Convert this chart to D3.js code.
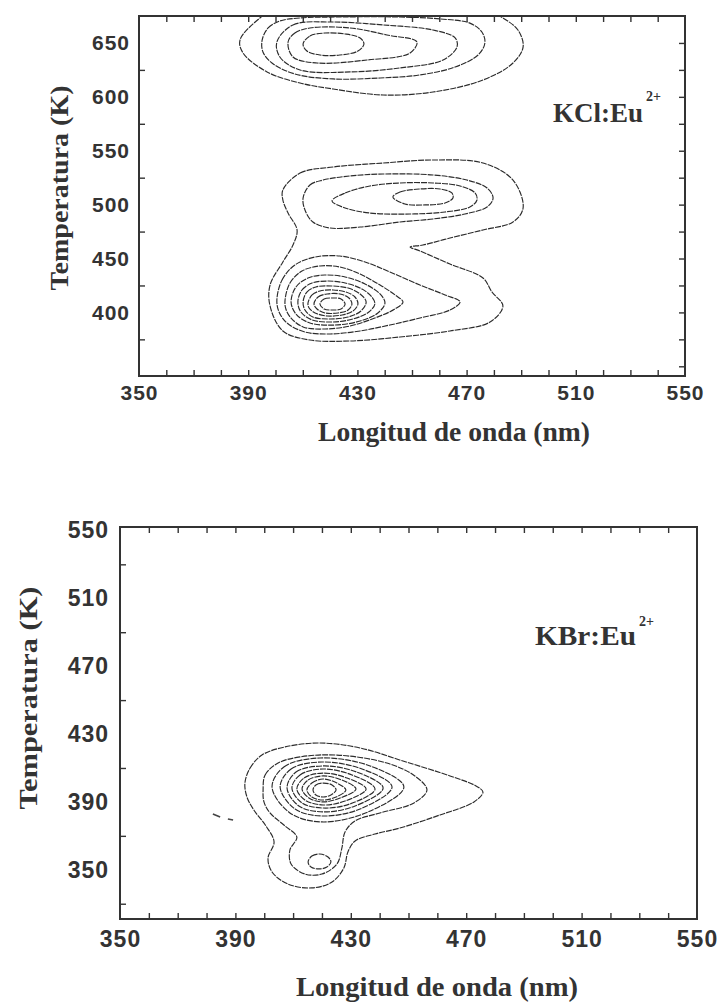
<!DOCTYPE html>
<html>
<head>
<meta charset="utf-8">
<script src="https://cdn.jsdelivr.net/npm/d3@7"></script>
<style>
  body { margin: 0; background: #fff; }
  svg { display: block; }
</style>
</head>
<body>
<svg id="chart" width="719" height="1006"></svg>
<script>
// ---- data (wavelength nm, temperature K) ----
const wlTicks = [350, 390, 430, 470, 510, 550];
const wlMinor = [360, 370, 380, 390, 400, 410, 420, 430, 440, 450, 460, 470, 480, 490, 500, 510, 520, 530, 540];

const kclTempTicks = [400, 450, 500, 550, 600, 650];
const kclTempMinor = [375, 425, 475, 525, 575, 625];
const kclTempRight = [350, 375, 400, 425, 450, 475, 500, 525, 550, 575, 600, 625, 650];

const kbrTempTicks = [350, 390, 430, 470, 510, 550];
const kbrTempMinor = [330, 370, 410, 450, 490, 530];

// KCl:Eu2+ , band near 650 K (clipped by top of frame)
const kclHighBand = [
  [[394.3,673.2],[387.0,652.7],[388.1,640.7],[396.9,623.1],[409.0,612.8],[421.1,607.3],[439.4,601.7],[457.7,604.5],[476.0,615.6],[487.0,631.4],[490.7,646.3],[488.8,662.0],[482.2,675.0],[474.9,685.0],[438.0,690.0],[401.6,685.0]],
  [[395.1,652.7],[397.3,663.9],[401.6,670.4],[409.0,673.2],[423.6,674.1],[445.6,674.1],[460.3,672.3],[471.2,668.4],[475.6,660.2],[476.7,650.0],[474.2,638.8],[465.8,627.7],[452.9,620.3],[438.3,617.5],[421.1,616.6],[407.1,621.2],[398.7,631.4],[395.4,641.6]],
  [[400.5,650.9],[406.4,666.7],[421.1,669.4],[439.4,666.7],[457.7,662.0],[465.8,654.6],[466.5,646.3],[461.4,634.2],[445.6,626.8],[427.3,623.1],[409.0,624.9],[401.6,637.0]],
  [[404.6,650.9],[407.1,659.2],[412.6,663.9],[427.3,663.9],[440.8,657.4],[451.8,650.9],[449.3,640.7],[433.5,634.2],[415.2,631.4],[406.4,637.0]],
  [[410.1,649.0],[412.6,656.5],[418.1,659.2],[425.5,658.3],[431.0,654.6],[432.4,649.0],[430.2,642.5],[423.6,638.8],[416.3,638.8],[411.5,642.5]]
];

// KCl:Eu2+ , outer contour enclosing the 500 K and 410 K bands
const kclOuter = [
  [[402.7,513.6],[409.0,529.3],[421.1,534.9],[439.4,538.6],[457.7,541.4],[476.0,538.6],[487.0,522.8],[490.7,496.9],[487.0,483.9],[476.0,476.5],[463.9,469.0],[454.0,462.5],[449.3,460.7],[452.9,457.0],[463.9,444.9],[476.0,431.9],[479.3,418.9],[483.3,405.9],[478.6,391.1],[463.9,382.8],[445.6,377.2],[427.3,373.5],[412.6,374.4],[402.7,382.8],[398.0,406.0],[398.0,425.4],[402.7,446.8],[406.4,462.5],[407.9,476.5],[404.6,492.2],[402.7,504.3]]
];

// KCl:Eu2+ , band near 510 K
const kclMidBand = [
  [[410.1,506.1],[412.6,518.2],[417.4,522.8],[427.3,526.6],[439.4,528.4],[457.7,527.5],[470.1,522.8],[477.5,515.4],[479.7,506.1],[477.5,497.8],[469.4,491.3],[457.7,486.7],[445.6,483.9],[431.0,479.2],[420.0,478.3],[413.7,483.9],[410.8,495.0]],
  [[420.7,503.4],[425.5,510.8],[434.6,517.3],[445.6,520.1],[457.7,520.1],[467.6,517.3],[473.1,510.8],[473.8,504.3],[471.2,497.8],[462.1,493.2],[449.3,491.3],[434.6,492.2],[425.5,496.9]],
  [[443.0,507.1],[445.6,511.7],[452.9,514.5],[460.3,514.5],[464.6,510.8],[465.0,506.1],[462.1,501.5],[454.8,499.7],[447.4,500.6]]
];

// KCl:Eu2+ , band near 408 K
const kclLowBand = [
  [[400.5,411.5],[402.4,430.1],[407.1,444.0],[414.5,451.4],[423.6,452.3],[432.8,446.8],[441.9,437.5],[452.9,425.4],[462.1,416.2],[467.6,409.7],[463.9,402.2],[452.9,394.8],[441.9,388.3],[431.0,382.8],[420.0,380.0],[410.8,381.8],[404.2,390.2],[401.3,400.4]],
  [[403.5,411.5],[405.3,427.3],[409.7,438.4],[416.3,443.1],[423.6,442.1],[431.0,435.6],[438.3,425.4],[443.8,416.2],[446.7,409.7],[443.8,403.2],[436.4,394.8],[427.3,387.4],[418.1,384.6],[410.1,386.5],[405.7,394.8],[403.8,403.2]],
  [[405.7,409.7],[407.5,423.6],[411.9,431.9],[418.1,434.7],[425.5,432.9],[432.8,426.4],[438.3,417.1],[440.1,408.7],[437.5,399.5],[431.0,392.0],[421.8,388.3],[412.6,390.2],[407.5,398.5]],
  [[408.2,409.7],[409.7,420.8],[413.4,427.3],[419.2,429.1],[425.5,427.3],[431.7,421.7],[435.3,414.3],[436.4,407.8],[434.2,400.4],[428.4,393.9],[420.7,391.1],[413.4,393.0],[409.3,400.4]],
  [[410.1,409.7],[411.5,418.9],[414.8,423.6],[420.7,424.5],[426.6,422.6],[431.0,417.1],[433.2,409.7],[431.3,401.3],[426.6,395.7],[420.0,393.9],[413.7,395.7],[410.8,402.2]],
  [[411.9,408.7],[413.4,416.2],[416.3,419.9],[421.1,420.8],[425.8,418.9],[429.1,414.3],[430.2,407.8],[428.4,401.3],[424.4,397.6],[418.9,396.7],[414.5,399.5],[412.3,404.1]],
  [[414.1,407.8],[415.6,414.3],[418.9,417.1],[423.6,417.1],[426.9,413.4],[428.0,407.8],[426.6,402.2],[422.9,399.5],[418.1,399.5],[415.2,403.2]],
  [[416.3,407.8],[417.8,412.4],[420.7,413.4],[424.0,412.4],[425.5,407.8],[424.0,403.2],[420.7,402.2],[417.8,403.2]]
];

// KBr:Eu2+ , outer two contours (with the low-temperature lobe)
const kbrOuter = [
  [[393.3,401.1],[395.1,410.0],[399.2,417.6],[407.2,422.4],[419.3,424.7],[433.2,421.8],[448.1,414.1],[464.4,405.3],[473.4,399.4],[475.8,395.8],[472.7,390.0],[460.9,382.3],[447.0,374.6],[438.4,371.1],[431.5,367.0],[429.0,360.5],[427.6,351.1],[423.5,342.8],[416.5,339.3],[408.2,341.6],[402.7,348.7],[401.3,356.9],[403.4,366.4],[400.6,375.8],[396.4,385.2],[394.0,392.9]],
  [[399.6,397.0],[400.3,405.9],[404.8,412.9],[412.4,416.5],[425.2,417.6],[442.5,412.9],[452.2,405.3],[456.4,397.0],[451.9,389.4],[440.1,383.5],[431.5,378.8],[428.0,372.3],[426.9,362.8],[425.2,353.4],[420.0,347.5],[414.1,347.5],[409.3,353.4],[408.9,361.7],[411.3,369.3],[407.2,375.8],[402.0,383.5],[399.9,390.0]],
  [[415.2,354.6],[416.5,358.1],[419.3,359.3],[422.1,357.5],[423.1,354.6],[421.7,351.6],[419.0,350.5],[416.2,351.6]]
];

// KBr:Eu2+ , rings round the 397 K peak
const kbrPeak = [
  [[402.7,398.8],[406.8,410.6],[419.3,415.9],[436.7,411.2],[448.4,398.8],[436.0,384.1],[420.0,378.2],[408.9,383.5]],
  [[405.5,398.8],[409.3,409.4],[420.0,413.5],[433.9,409.4],[444.3,398.8],[433.2,385.8],[420.0,381.7],[410.7,385.8]],
  [[407.9,398.2],[411.0,407.6],[420.4,411.2],[432.1,407.6],[441.2,398.2],[431.5,387.6],[420.4,384.1],[412.0,387.6]],
  [[409.6,398.2],[412.4,405.9],[420.4,409.4],[430.4,405.9],[438.4,397.6],[429.7,388.8],[420.4,386.4],[413.1,389.4]],
  [[411.3,397.6],[413.8,404.1],[420.4,407.0],[428.7,404.1],[435.3,397.6],[428.0,390.5],[420.4,388.2],[414.1,391.1]],
  [[413.1,397.6],[415.2,402.9],[420.4,405.3],[426.9,402.9],[431.8,397.6],[426.3,392.3],[420.4,390.0],[415.5,392.3]],
  [[414.8,397.0],[416.5,401.1],[420.4,403.5],[425.2,401.1],[428.3,397.0],[424.9,392.9],[420.4,391.1],[416.5,392.9]],
  [[416.9,397.0],[417.9,400.0],[420.4,401.1],[423.5,400.0],[424.9,397.0],[423.1,394.1],[420.4,392.9],[417.9,394.1]]
];

// stray specks left of the KBr band
const kbrStray = [
  [[382.2,382.9],[384.7,381.1]],
  [[387.4,379.9],[389.2,379.3]]
];

const svg = d3.select("#chart");
const ink = "#333";

const panels = [
  {
    frame: { left: 139, right: 685, top: 16, bottom: 376 },
    tDomain: [341, 675],
    tTicks: kclTempTicks, tMinor: kclTempMinor, tRight: kclTempRight,
    closed: [].concat(kclHighBand, kclOuter, kclMidBand, kclLowBand),
    open: [],
    tickFont: 21, xPad: 9, yPad: 9,
    yTitle: { x: 68, y: 188, len: 205 },
    xTitle: { x: 454, y: 441, len: 272 },
    tag: { text: "KCl:Eu", x: 553, y: 122, len: 90, supX: 646, supY: 101 }
  },
  {
    frame: { left: 120, right: 697, top: 527, bottom: 919 },
    tDomain: [321, 552],
    tTicks: kbrTempTicks, tMinor: kbrTempMinor, tRight: [],
    closed: [].concat(kbrOuter, kbrPeak),
    open: kbrStray,
    tickFont: 23, xPad: 12, yPad: 11,
    yTitle: { x: 37, y: 698, len: 223 },
    xTitle: { x: 437, y: 996, len: 282 },
    tag: { text: "KBr:Eu", x: 535, y: 645, len: 101, supX: 639, supY: 626 }
  }
];

panels.forEach((p, i) => {
  const f = p.frame;
  const x = d3.scaleLinear().domain([350, 550]).range([f.left, f.right]);
  const y = d3.scaleLinear().domain(p.tDomain).range([f.bottom, f.top]);

  const clipId = "clip" + i;
  svg.append("clipPath").attr("id", clipId)
    .append("rect")
    .attr("x", f.left).attr("y", f.top)
    .attr("width", f.right - f.left).attr("height", f.bottom - f.top);

  // contour lines
  const ring = d3.line()
    .x(d => x(d[0])).y(d => y(d[1]))
    .curve(d3.curveCatmullRomClosed.alpha(0.5));
  const seg = d3.line().x(d => x(d[0])).y(d => y(d[1]));

  const g = svg.append("g").attr("clip-path", "url(#" + clipId + ")");
  g.selectAll("path.ring")
    .data(p.closed)
    .join("path")
    .attr("class", "ring")
    .attr("d", ring)
    .attr("fill", "none")
    .attr("stroke", "#2b2b2b")
    .attr("stroke-width", 1.15)
    .attr("stroke-dasharray", "6,1")
    .attr("stroke-linejoin", "round");
  g.selectAll("path.seg")
    .data(p.open)
    .join("path")
    .attr("class", "seg")
    .attr("d", seg)
    .attr("fill", "none")
    .attr("stroke", "#444")
    .attr("stroke-width", 1.6);

  // inward ticks
  const tick = (axis, tx, ty) => {
    const a = svg.append("g")
      .attr("transform", "translate(" + tx + "," + ty + ")")
      .call(axis);
    a.select(".domain").remove();
    a.selectAll("line").attr("stroke", ink).attr("stroke-width", 1.4);
  };
  tick(d3.axisBottom(x).tickValues(wlMinor).tickSize(-6).tickFormat(""), 0, f.bottom);
  tick(d3.axisTop(x).tickValues(wlMinor).tickSize(-6).tickFormat(""), 0, f.top);
  tick(d3.axisLeft(y).tickValues(p.tMinor).tickSize(-6).tickFormat(""), f.left, 0);
  if (p.tRight.length) {
    tick(d3.axisRight(y).tickValues(p.tRight).tickSize(-6).tickFormat(""), f.right, 0);
  }

  // frame
  svg.append("rect")
    .attr("x", f.left).attr("y", f.top)
    .attr("width", f.right - f.left).attr("height", f.bottom - f.top)
    .attr("fill", "none").attr("stroke", ink).attr("stroke-width", 2);

  // tick labels
  const label = (axis, tx, ty) => {
    const a = svg.append("g")
      .attr("transform", "translate(" + tx + "," + ty + ")")
      .call(axis);
    a.select(".domain").remove();
    a.selectAll("line").remove();
    a.selectAll("text")
      .attr("font-family", "'Liberation Sans', Arial, sans-serif")
      .attr("font-weight", "bold")
      .attr("font-size", p.tickFont)
      .attr("letter-spacing", 1)
      .attr("fill", ink);
  };
  label(d3.axisBottom(x).tickValues(wlTicks).tickSize(0).tickPadding(p.xPad).tickFormat(d3.format("d")), 0, f.bottom);
  label(d3.axisLeft(y).tickValues(p.tTicks).tickSize(0).tickPadding(p.yPad).tickFormat(d3.format("d")), f.left, 0);

  // axis titles
  const serif = "'Liberation Serif', 'Times New Roman', serif";
  svg.append("text")
    .attr("transform", "translate(" + p.yTitle.x + "," + p.yTitle.y + ") rotate(-90)")
    .attr("text-anchor", "middle")
    .attr("font-family", serif).attr("font-weight", "bold").attr("font-size", 26)
    .attr("textLength", p.yTitle.len).attr("lengthAdjust", "spacingAndGlyphs")
    .attr("fill", ink)
    .text("Temperatura (K)");
  svg.append("text")
    .attr("x", p.xTitle.x).attr("y", p.xTitle.y)
    .attr("text-anchor", "middle")
    .attr("font-family", serif).attr("font-weight", "bold").attr("font-size", 27)
    .attr("textLength", p.xTitle.len).attr("lengthAdjust", "spacingAndGlyphs")
    .attr("fill", ink)
    .text("Longitud de onda (nm)");

  // sample tag with superscript
  svg.append("text")
    .attr("x", p.tag.x).attr("y", p.tag.y)
    .attr("font-family", serif).attr("font-weight", "bold").attr("font-size", 27)
    .attr("textLength", p.tag.len).attr("lengthAdjust", "spacingAndGlyphs")
    .attr("fill", ink)
    .text(p.tag.text);
  svg.append("text")
    .attr("x", p.tag.supX).attr("y", p.tag.supY)
    .attr("font-family", serif).attr("font-weight", "bold").attr("font-size", 14)
    .attr("fill", ink)
    .text("2+");
});
</script>
</body>
</html>
